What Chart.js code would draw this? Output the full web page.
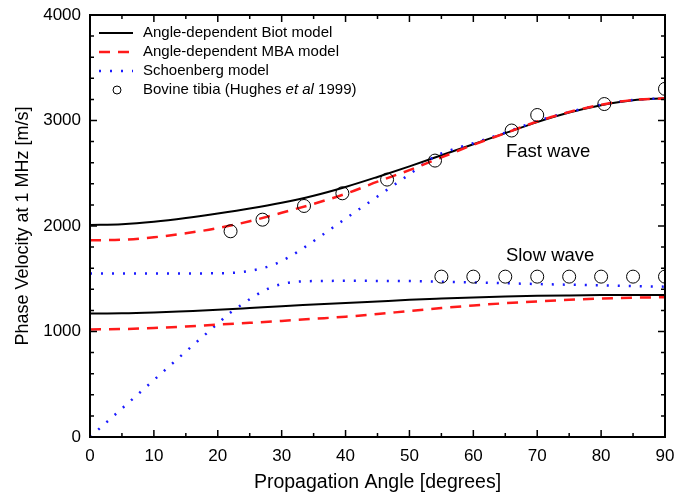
<!DOCTYPE html>
<html>
<head>
<meta charset="utf-8">
<script src="https://cdn.jsdelivr.net/npm/chart.js@4"></script>
<style>
html,body{margin:0;padding:0;background:#fff;}
#wrap{width:676px;height:498px;position:relative;}
</style>
</head>
<body>
<div id="wrap"><canvas id="c" width="676" height="498"></canvas></div>
<script>
// ---- data ----
const angles = [0,5,10,15,20,25,30,35,40,45,50,55,60,65,70,75,80,85,90];
const biotFast = [2010,2017,2040,2075,2118,2165,2220,2287,2370,2465,2565,2670,2775,2880,2985,3075,3145,3192,3210];
const mbaFast  = [1865,1870,1893,1931,1980,2045,2125,2210,2305,2420,2530,2650,2770,2880,2990,3080,3150,3195,3210];
const biotSlow = [1170,1172,1180,1192,1205,1222,1240,1255,1270,1285,1300,1312,1323,1332,1338,1342,1345,1346,1346];
const mbaSlow  = [1020,1023,1033,1048,1065,1082,1100,1120,1140,1165,1195,1222,1247,1268,1285,1300,1312,1320,1325];

const schFastAngles = [0,10,20,24,27,29,31,33,40,45,50,54,57,60,65,70,75,80,85,90];
const schFast       = [1550,1550,1552,1565,1600,1640,1700,1775,2070,2280,2490,2660,2730,2785,2885,2995,3080,3150,3195,3210];
const schSlowAngles = [0,5,10,15,20,22,24,26,28,30,32,35,40,50,60,70,80,90];
const schSlow       = [0,270,540,810,1075,1180,1265,1345,1410,1450,1470,1478,1480,1478,1465,1450,1437,1425];

const hughesAngles = [22,27,33.5,39.5,46.5,54,66,70,80.5,90,55,60,65,70,75,80,85,90];
const hughesValues = [1950,2060,2190,2310,2440,2620,2905,3052,3156,3300,1520,1520,1520,1520,1520,1520,1520,1520];

const xTicks = [0,10,20,30,40,50,60,70,80,90];
const yTicks = [0,1000,2000,3000,4000];

const legendLabels = ['Angle-dependent Biot model','Angle-dependent MBA model','Schoenberg model'];
const FONT = "'Liberation Sans', Arial, Helvetica, sans-serif";

function pts(xs, ys){ return xs.map((x,i)=>({x:x, y:ys[i]})); }

const RED = '#ff1a1a', BLUE = '#1a1aff';

const lineBase = {type:'line', pointRadius:0, borderWidth:2, fill:false, cubicInterpolationMode:'monotone', clip:0};

const framePlugin = {
  id:'frame',
  afterDatasetsDraw(chart){
    const {ctx, chartArea:a, scales:{x, y}} = chart;
    ctx.save();
    ctx.strokeStyle = '#000';
    ctx.lineWidth = 1.5;
    ctx.beginPath();
    for (let v = 0; v <= 90; v += 5) {
      const px = x.getPixelForValue(v);
      const L = (v % 10 === 0) ? 7 : 4;
      ctx.moveTo(px, a.bottom); ctx.lineTo(px, a.bottom - L);
      ctx.moveTo(px, a.top); ctx.lineTo(px, a.top + L);
    }
    for (let v = 0; v <= 4000; v += 200) {
      const py = y.getPixelForValue(v);
      const L = (v % 1000 === 0) ? 7 : 4;
      ctx.moveTo(a.left, py); ctx.lineTo(a.left + L, py);
      ctx.moveTo(a.right, py); ctx.lineTo(a.right - L, py);
    }
    ctx.stroke();
    ctx.lineWidth = 2;
    ctx.strokeRect(a.left, a.top, a.right - a.left, a.bottom - a.top);

    // legend
    const lx0 = a.left + 9, lx1 = a.left + 43, tx = a.left + 53;
    const rows = [33, 52, 71, 90];
    const styles = [
      {c:'#000', w:2, d:[]},
      {c:RED, w:2.5, d:[11,8]},
      {c:BLUE, w:2.5, d:[2,9]}
    ];
    ctx.font = '15px ' + FONT;
    ctx.textBaseline = 'middle';
    ctx.fillStyle = '#000';
    for (let i = 0; i < 3; i++) {
      const s = styles[i];
      ctx.beginPath();
      ctx.strokeStyle = s.c; ctx.lineWidth = s.w; ctx.setLineDash(s.d);
      ctx.moveTo(lx0, rows[i]); ctx.lineTo(lx1, rows[i]); ctx.stroke();
      ctx.setLineDash([]);
      ctx.fillText(legendLabels[i], tx, rows[i]);
    }
    ctx.beginPath();
    ctx.strokeStyle = '#000'; ctx.lineWidth = 1;
    ctx.arc((lx0 + lx1)/2 + 1, rows[3], 4, 0, Math.PI*2); ctx.stroke();
    let cx = tx;
    const parts = [['Bovine tibia (Hughes ', ''], ['et al', 'italic '], [' 1999)', '']];
    for (const [t, st] of parts) {
      ctx.font = st + '15px ' + FONT;
      ctx.fillText(t, cx, rows[3]);
      cx += ctx.measureText(t).width;
    }
    // annotations
    ctx.font = '18.5px ' + FONT;
    ctx.fillText('Fast wave', x.getPixelForValue(65.1), y.getPixelForValue(2700));
    ctx.fillText('Slow wave', x.getPixelForValue(65.1), y.getPixelForValue(1715));
    ctx.restore();
  }
};

new Chart(document.getElementById('c'), {
  data: {
    datasets: [
      {type:'scatter', label:'Bovine tibia (Hughes et al 1999)', data: pts(hughesAngles, hughesValues),
       pointStyle:'circle', pointRadius:6.5, pointBorderWidth:1, borderColor:'#000', backgroundColor:'rgba(0,0,0,0)', showLine:false, clip:0, order:0},
      Object.assign({}, lineBase, {label:legendLabels[1], data: pts(angles, mbaFast), borderColor:RED, borderWidth:2.5, borderDash:[11,8], order:1}),
      Object.assign({}, lineBase, {label:legendLabels[1]+' slow', data: pts(angles, mbaSlow), borderColor:RED, borderWidth:2.5, borderDash:[11,8], order:1}),
      Object.assign({}, lineBase, {label:legendLabels[2], data: pts(schFastAngles, schFast), borderColor:BLUE, borderWidth:2.5, borderDash:[2,9], order:2}),
      Object.assign({}, lineBase, {label:legendLabels[2]+' slow', data: pts(schSlowAngles, schSlow), borderColor:BLUE, borderWidth:2.5, borderDash:[2,9], order:2}),
      Object.assign({}, lineBase, {label:legendLabels[0], data: pts(angles, biotFast), borderColor:'#000', order:3}),
      Object.assign({}, lineBase, {label:legendLabels[0]+' slow', data: pts(angles, biotSlow), borderColor:'#000', order:3})
    ]
  },
  options: {
    responsive:false,
    animation:false,
    events:[],
    layout:{padding:{left:0, right:11, top:15, bottom:0}},
    plugins:{legend:{display:false}, tooltip:{enabled:false}},
    scales:{
      x:{type:'linear', min:0, max:90,
         afterBuildTicks(s){ s.ticks = xTicks.map(v=>({value:v})); },
         afterFit(s){ s.height = 61; s.paddingLeft = 0; s.paddingRight = 0; },
         grid:{display:false, drawTicks:false}, border:{display:false},
         ticks:{padding:9, color:'#000', font:{family:FONT, size:17}, maxRotation:0, callback:(v)=>String(v)},
         title:{display:true, text:'Propagation Angle [degrees]', color:'#000', font:{family:FONT, size:19.5}, padding:{top:0,bottom:4}}},
      y:{type:'linear', min:0, max:4000,
         afterBuildTicks(s){ s.ticks = yTicks.map(v=>({value:v})); },
         afterFit(s){ s.width = 90; s.paddingTop = 0; s.paddingBottom = 0; },
         grid:{display:false, drawTicks:false}, border:{display:false},
         ticks:{padding:9, color:'#000', font:{family:FONT, size:17}, callback:(v)=>String(v)},
         title:{display:true, text:'Phase Velocity at 1 MHz [m/s]', color:'#000', font:{family:FONT, size:18}, padding:{top:12,bottom:0}}}
    }
  },
  plugins:[framePlugin]
});
</script>
</body>
</html>
